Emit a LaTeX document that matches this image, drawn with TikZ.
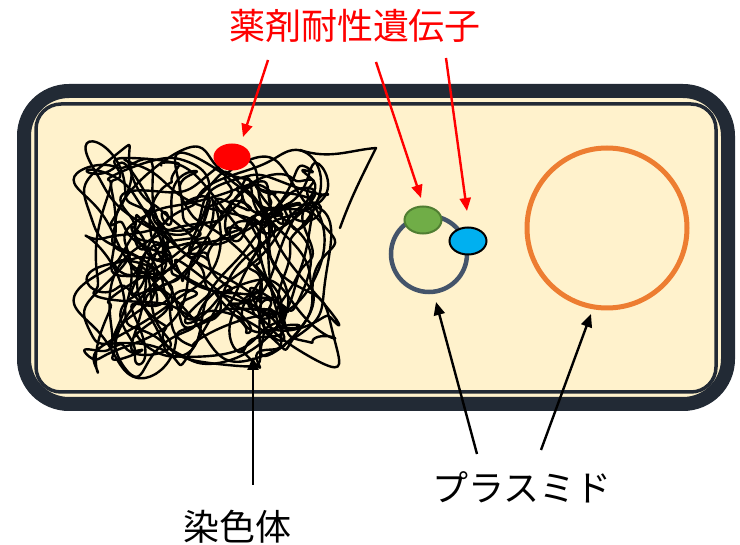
\documentclass[tikz,border=0pt]{standalone}
\usepackage{fontspec}
\newfontfamily\jp{Noto Sans CJK JP}
\usetikzlibrary{shapes.geometric,arrows.meta}
\definecolor{cell}{HTML}{FFF2CC}
\definecolor{wall}{HTML}{222A35}
\definecolor{ring}{HTML}{44546A}
\definecolor{gfill}{HTML}{70AD47}
\definecolor{gline}{HTML}{507E32}
\definecolor{bfill}{HTML}{00B0F0}
\definecolor{orng}{HTML}{ED7D31}

\begin{document}
\begin{tikzpicture}[x=1pt,y=-1pt,
  lbl/.style={font=\jp\fontsize{36}{40}\selectfont,inner sep=0pt},
  gene/.style={ellipse,minimum width=37pt,minimum height=27pt,inner sep=0pt},
  chromo/.style={line width=2.4pt,line join=round,line cap=round},
  ptr/.style={line width=2.4pt,-{Triangle[length=13pt,width=11pt]}}
]
  \useasboundingbox (0,0) rectangle (740,545);

  % cell body
  \draw[fill=cell,draw=wall,line width=14pt,rounded corners=45pt] (24,91) rectangle (728,404);
  \draw[draw=wall,line width=3.5pt,rounded corners=25pt] (36,104) rectangle (716,392);

  % chromosome tangle, one turn of the base wave per segment
  \foreach \k in {0,...,17}{
    \draw[chromo] plot[smooth,domain=0:360,samples=200,variable=\t]
      ({208+88*sin(\t)+32*sin(2.7*\t+40+360*frac(2.7*\k))+12*sin(6.3*\t+100+360*frac(6.3*\k))+5*sin(13.1*\t+360*frac(13.1*\k))},
       {260+76*sin(1.37*\t+70+360*frac(1.37*\k))+29*sin(3.1*\t+15+360*frac(3.1*\k))+11*sin(7.7*\t+50+360*frac(7.7*\k))+4*sin(12.3*\t+20+360*frac(12.3*\k))});
  }
  \draw[chromo] (300,150) .. controls (330,160) and (350,150) .. (376,148)
    .. controls (360,180) and (350,200) .. (340,228);

  % genes and plasmids
  \node[gene,fill=red] (redgene) at (232,157) {};
  \node[circle,draw=ring,line width=4.5pt,minimum size=76pt,inner sep=0pt] (plasmid) at (429,254) {};
  \node[gene,fill=gfill,draw=gline,line width=2pt] (green) at (423,220) {};
  \node[gene,fill=bfill,draw=black,line width=2pt] (blue) at (468,241) {};
  \node[circle,draw=orng,line width=5pt,minimum size=160pt,inner sep=0pt] (big) at (607,228) {};

  % labels
  \node[lbl,text=red] (drug) at (355,26) {薬剤耐性遺伝子};
  \node[lbl] (plas) at (522,487) {プラスミド};
  \node[lbl] (chrom) at (237,527) {染色体};

  % arrow ends
  \coordinate (r1) at (268,60);
  \coordinate (r2) at (376,62);
  \coordinate (r3) at (446,58);
  \coordinate (r1e) at (243,137);
  \coordinate (r2e) at (421,198);
  \coordinate (r3e) at (467,211);
  \coordinate (c1) at (253,485);
  \coordinate (c1e) at (253,357);
  \coordinate (p1) at (477,454);
  \coordinate (p1e) at (436,302);
  \coordinate (p2) at (541,450);
  \coordinate (p2e) at (591,314);

  \draw[ptr,red] (r1) -- (r1e);
  \draw[ptr,red] (r2) -- (r2e);
  \draw[ptr,red] (r3) -- (r3e);
  \draw[ptr] (c1) -- (c1e);
  \draw[ptr] (p1) -- (p1e);
  \draw[ptr] (p2) -- (p2e);
\end{tikzpicture}
\end{document}
